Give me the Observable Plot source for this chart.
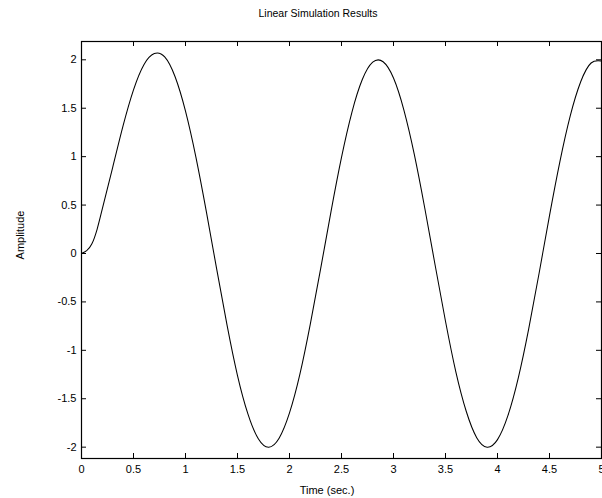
<!DOCTYPE html>
<html>
<head>
<meta charset="utf-8">
<script src="https://cdn.jsdelivr.net/npm/d3@7"></script>
<script src="https://cdn.jsdelivr.net/npm/@observablehq/plot@0.6"></script>
<style>
  html, body { margin: 0; padding: 0; background: #fff; overflow: hidden; }
  #chart svg { display: block; }
</style>
</head>
<body>
<div id="chart"></div>
<script>
// --- data ---
const titleText = "Linear Simulation Results";
const xLabelText = "Time (sec.)";
const yLabelText = "Amplitude";

const time = [0, 0.05, 0.1, 0.15, 0.2, 0.3, 0.4, 0.5, 0.6, 0.7, 0.8, 0.9,
  1.0, 1.1, 1.2, 1.3, 1.4, 1.5, 1.6, 1.7, 1.8, 1.9,
  2.0, 2.1, 2.2, 2.3, 2.4, 2.5, 2.6, 2.7, 2.8, 2.9,
  3.0, 3.1, 3.2, 3.3, 3.4, 3.5, 3.6, 3.7, 3.8, 3.9,
  4.0, 4.1, 4.2, 4.3, 4.4, 4.5, 4.6, 4.7, 4.8, 4.9, 5.0];

const amplitude = [0, 0.03, 0.1, 0.25, 0.46, 0.89, 1.32, 1.69, 1.95, 2.065, 2.03, 1.825,
  1.47, 0.995, 0.434, -0.162, -0.742, -1.26, -1.656, -1.913, -2.0, -1.907,
  -1.646, -1.246, -0.729, -0.154, 0.438, 0.992, 1.458, 1.796, 1.975, 1.98,
  1.812, 1.481, 1.023, 0.472, -0.119, -0.7, -1.225, -1.632, -1.902, -2.0,
  -1.922, -1.675, -1.285, -0.779, -0.204, 0.39, 0.948, 1.423, 1.773, 1.967, 1.987];

const xTicks = [0, 0.5, 1, 1.5, 2, 2.5, 3, 3.5, 4, 4.5, 5];
const yTicks = [-2, -1.5, -1, -0.5, 0, 0.5, 1, 1.5, 2];
const xDomain = [0, 5];
const yDomain = [-2.117, 2.189];

const data = time.map((t, i) => ({t, y: amplitude[i]}));

// --- layout ---
const W = 602, H = 498;
const mL = 81, mR = 1, mT = 41, mB = 40;
const innerW = W - mL - mR, innerH = H - mT - mB;
const tickLen = 5;
const font = "'Liberation Sans', Arial, Helvetica, sans-serif";

const chart = Plot.plot({
  width: W,
  height: H,
  marginLeft: mL,
  marginRight: mR,
  marginTop: mT,
  marginBottom: mB,
  style: {fontFamily: font, fontSize: "11px", color: "#000", background: "#fff", overflow: "visible"},
  x: {domain: xDomain, ticks: xTicks, label: null},
  y: {domain: yDomain, ticks: yTicks, label: null},
  marks: [
    // tick labels
    Plot.axisX(xTicks, {anchor: "bottom", tickSize: 0, tickPadding: 7, tickFormat: d => String(d), fontSize: 11, fill: "#000"}),
    Plot.axisY(yTicks, {anchor: "left", tickSize: 0, tickPadding: 5, tickFormat: d => String(d), fontSize: 11, fill: "#000"}),
    // inward ticks on all four sides
    Plot.tickX(xTicks, {x: d => d, insetTop: innerH - tickLen, stroke: "#000", strokeWidth: 1}),
    Plot.tickX(xTicks, {x: d => d, insetBottom: innerH - tickLen, stroke: "#000", strokeWidth: 1}),
    Plot.tickY(yTicks, {y: d => d, insetRight: innerW - tickLen, stroke: "#000", strokeWidth: 1}),
    Plot.tickY(yTicks, {y: d => d, insetLeft: innerW - tickLen, stroke: "#000", strokeWidth: 1}),
    // response curve
    Plot.line(data, {x: "t", y: "y", curve: "natural", stroke: "#000", strokeWidth: 1.05, clip: true}),
    Plot.frame({stroke: "#000", strokeWidth: 1.2})
  ]
});

const svg = d3.select(chart);
svg.append("text")
  .attr("x", 318).attr("y", 17)
  .attr("text-anchor", "middle")
  .attr("font-family", font).attr("font-size", 10.5).attr("fill", "#000")
  .text(titleText);
svg.append("text")
  .attr("x", 327).attr("y", 494)
  .attr("text-anchor", "middle")
  .attr("font-family", font).attr("font-size", 11).attr("fill", "#000")
  .text(xLabelText);
svg.append("text")
  .attr("transform", "translate(24,235) rotate(-90)")
  .attr("text-anchor", "middle")
  .attr("font-family", font).attr("font-size", 11).attr("fill", "#000")
  .text(yLabelText);

document.getElementById("chart").appendChild(chart);
</script>
</body>
</html>
